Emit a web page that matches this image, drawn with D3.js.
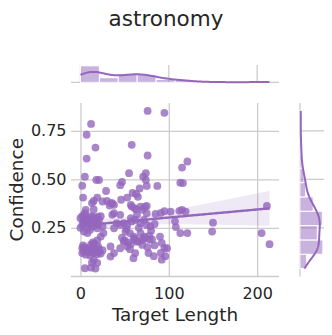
<!DOCTYPE html>
<html><head><meta charset="utf-8">
<script src="https://cdn.jsdelivr.net/npm/d3@7"></script>
<style>body{margin:0;background:#fff}</style>
</head><body><svg id="c" width="332" height="335"></svg>
<script>
const title = "astronomy";
const xLabel = "Target Length";
const yLabel = "Confidence";
const xTicks = [0, 100, 200];
const yTicks = [0.25, 0.50, 0.75];

const targetLength = [
76,95,12,7,17,58,76,7,121,115,55,74,5,71,18,21,74,2,47,45,75,87,113,116,67,29,3,19,15,53,65,30,36,33,57,61,75,5,115,211,150,149,113,121,205,214,107,108,95,91,85,92,95,91,96,92,83,13,25,34,38,6,
4,14,20,23,36,38,45,58,63,68,70,73,75,64,102,112,119,
2,8,11,13,19,25,4,8,26,23,38,41,45,49,53,57,58,62,68,72,75,79,51,56,60,68,72,70,90,98,77,62,60,34,38,34,49,53,45,64,70,73,
2,6,10,13,17,21,25,2,6,11,15,19,23,4,9,15,19,13,5,12,17,
0,3,6,9,12,16,18,21,0,5,10,14,17,20,2,7,11,15,19,4,9,13,17,21,3,8,12,16,20,
47,50,54,62,46,52,59,63,61,57,56,
66,78,66,80,84,76,81,78,84
];
const confidence = [
0.853,0.843,0.786,0.730,0.664,0.678,0.623,0.607,0.592,0.561,0.532,0.532,0.514,0.514,0.497,0.497,0.497,0.467,0.487,0.470,0.466,0.466,0.483,0.481,0.453,0.440,0.406,0.406,0.389,0.406,0.410,0.389,0.377,0.365,0.369,0.352,0.363,0.326,0.343,0.363,0.277,0.231,0.223,0.223,0.223,0.166,0.284,0.254,0.336,0.327,0.322,0.173,0.147,0.121,0.104,0.086,0.104,0.378,0.386,0.378,0.369,0.343,
0.317,0.308,0.308,0.310,0.317,0.326,0.317,0.360,0.345,0.360,0.343,0.358,0.326,0.317,0.334,0.338,0.334,
0.265,0.274,0.272,0.257,0.248,0.257,0.231,0.223,0.223,0.205,0.248,0.274,0.265,0.274,0.265,0.300,0.283,0.291,0.274,0.291,0.265,0.257,0.231,0.223,0.205,0.223,0.205,0.188,0.205,0.145,0.120,0.120,0.094,0.154,0.120,0.102,0.179,0.154,0.145,0.179,0.162,0.197,
0.145,0.140,0.148,0.137,0.143,0.140,0.135,0.120,0.112,0.108,0.120,0.114,0.118,0.130,0.125,0.085,0.070,0.072,0.042,0.045,0.040,
0.250,0.285,0.295,0.300,0.165,0.280,0.265,0.290,0.300,0.290,0.280,0.175,0.300,0.270,0.310,0.255,0.240,0.345,0.185,0.150,0.130,0.125,0.130,0.125,0.160,0.290,0.310,0.170,0.155,
0.200,0.185,0.175,0.195,0.395,0.245,0.430,0.425,0.190,0.165,0.140,
0.180,0.190,0.250,0.235,0.270,0.150,0.190,0.210,0.160
];

const nBinsX = 10, nBinsY = 11;
const color = "#9467bd";
const gridColor = "#cccccc";
const textColor = "#262626";
const font = "'DejaVu Sans', sans-serif";
const main = {l:71, r:279, t:103, b:276.5};
const margX = {t:65, b:82.3};
const margY = {l:300, r:324};

const data = targetLength.map((v,i)=>({x:v, y:confidence[i]}));
const n = data.length;
const svg = d3.select("#c");
const pad = e => { const r = e[1]-e[0]; return [e[0]-0.05*r, e[1]+0.05*r]; };
const xExt = d3.extent(targetLength), yExt = d3.extent(confidence);
const x = d3.scaleLinear().domain(pad(xExt)).range([main.l, main.r]);
const y = d3.scaleLinear().domain(pad(yExt)).range([main.b, main.t]);

const gx = svg.append("g").attr("transform",`translate(0,${main.b})`)
  .call(d3.axisBottom(x).tickValues(xTicks).tickSize(-(main.b-main.t)).tickPadding(11).tickFormat(d3.format("d")));
const gy = svg.append("g").attr("transform",`translate(${main.l},0)`)
  .call(d3.axisLeft(y).tickValues(yTicks).tickSize(-(main.r-main.l)).tickPadding(4.5).tickFormat(d3.format(".2f")));
[gx,gy].forEach(g=>{
  g.select(".domain").remove();
  g.selectAll(".tick line").attr("stroke",gridColor).attr("stroke-width",1.3);
  g.selectAll(".tick text").attr("font-family",font).attr("font-size",16).attr("fill",textColor);
});
svg.append("line").attr("x1",main.l).attr("x2",main.r).attr("y1",main.b).attr("y2",main.b)
  .attr("stroke",gridColor).attr("stroke-width",1.3);

const mx = d3.mean(targetLength), my = d3.mean(confidence);
const sxx = d3.sum(targetLength, v=>(v-mx)**2);
const sxy = d3.sum(data, d=>(d.x-mx)*(d.y-my));
const slope = sxy/sxx, icpt = my - slope*mx;
const s = Math.sqrt(d3.sum(data, d=>(d.y-(icpt+slope*d.x))**2)/(n-2));
const tval = 1.972;
const grid = d3.range(100).map(i=>xExt[0]+i*(xExt[1]-xExt[0])/99).map(g=>{
  const yh = icpt+slope*g;
  const se = s*Math.sqrt(1/n + (g-mx)**2/sxx);
  return {x:g, y:yh, lo:yh-tval*se, hi:yh+tval*se};
});

svg.append("g").selectAll("circle").data(data).join("circle")
  .attr("cx",d=>x(d.x)).attr("cy",d=>y(d.y)).attr("r",3.9)
  .attr("fill",color).attr("fill-opacity",0.8);

svg.append("path").datum(grid)
  .attr("d", d3.area().x(d=>x(d.x)).y0(d=>y(d.lo)).y1(d=>y(d.hi)))
  .attr("fill",color).attr("fill-opacity",0.15);
svg.append("path").datum(grid)
  .attr("d", d3.line().x(d=>x(d.x)).y(d=>y(d.y)))
  .attr("fill","none").attr("stroke",color).attr("stroke-width",2.4);

function kde(vals, ext, bw, scale){
  return d3.range(200).map(i=>{
    const v = ext[0]+i*(ext[1]-ext[0])/199;
    const dens = d3.mean(vals, u=>Math.exp(-0.5*((v-u)/bw)**2))/(bw*Math.sqrt(2*Math.PI));
    return {v, d:dens*scale};
  });
}

const xThr = d3.range(1,nBinsX).map(i=>xExt[0]+i*(xExt[1]-xExt[0])/nBinsX);
const xBins = d3.bin().domain(xExt).thresholds(xThr)(targetLength);
const xbw = d3.deviation(targetLength)*Math.pow(n,-0.2);
const xK = kde(targetLength, xExt, xbw, n*(xExt[1]-xExt[0])/nBinsX);
const xMax = Math.max(d3.max(xBins,b=>b.length), d3.max(xK,k=>k.d));
const cx = d3.scaleLinear().domain([0,xMax*1.05]).range([margX.b, margX.t]);
svg.append("g").selectAll("line").data(xTicks).join("line")
  .attr("x1",d=>x(d)).attr("x2",d=>x(d)).attr("y1",margX.t).attr("y2",margX.b)
  .attr("stroke",gridColor).attr("stroke-width",1.3);
svg.append("line").attr("x1",main.l).attr("x2",main.r).attr("y1",margX.b).attr("y2",margX.b)
  .attr("stroke",gridColor).attr("stroke-width",1.3);
svg.append("g").selectAll("rect").data(xBins).join("rect")
  .attr("x",b=>x(b.x0)).attr("width",b=>x(b.x1)-x(b.x0))
  .attr("y",b=>cx(b.length)).attr("height",b=>cx(0)-cx(b.length))
  .attr("fill",color).attr("fill-opacity",0.5).attr("stroke","#fff").attr("stroke-width",1);
svg.append("path").datum(xK)
  .attr("d", d3.line().x(k=>x(k.v)).y(k=>cx(k.d)))
  .attr("fill","none").attr("stroke",color).attr("stroke-width",2);

const yThr = d3.range(1,nBinsY).map(i=>yExt[0]+i*(yExt[1]-yExt[0])/nBinsY);
const yBins = d3.bin().domain(yExt).thresholds(yThr)(confidence);
const ybw = d3.deviation(confidence)*Math.pow(n,-0.2);
const yK = kde(confidence, yExt, ybw, n*(yExt[1]-yExt[0])/nBinsY);
const yMax = Math.max(d3.max(yBins,b=>b.length), d3.max(yK,k=>k.d));
const cy = d3.scaleLinear().domain([0,yMax*1.05]).range([margY.l, margY.r]);
svg.append("g").selectAll("line").data(yTicks).join("line")
  .attr("y1",d=>y(d)).attr("y2",d=>y(d)).attr("x1",margY.l).attr("x2",margY.r)
  .attr("stroke",gridColor).attr("stroke-width",1.3);
svg.append("line").attr("x1",margY.l).attr("x2",margY.l).attr("y1",main.t).attr("y2",main.b)
  .attr("stroke",gridColor).attr("stroke-width",1.3);
svg.append("g").selectAll("rect").data(yBins).join("rect")
  .attr("y",b=>y(b.x1)).attr("height",b=>y(b.x0)-y(b.x1))
  .attr("x",margY.l).attr("width",b=>cy(b.length)-cy(0))
  .attr("fill",color).attr("fill-opacity",0.5).attr("stroke","#fff").attr("stroke-width",1);
svg.append("path").datum(yK)
  .attr("d", d3.line().y(k=>y(k.v)).x(k=>cy(k.d)))
  .attr("fill","none").attr("stroke",color).attr("stroke-width",2);

svg.append("text").attr("x",166).attr("y",26).attr("text-anchor","middle")
  .attr("font-family",font).attr("font-size",21.5).attr("fill",textColor).text(title);
svg.append("text").attr("x",(main.l+main.r)/2).attr("y",321).attr("text-anchor","middle")
  .attr("font-family",font).attr("font-size",18.4).attr("fill",textColor).text(xLabel);
svg.append("text").attr("transform",`translate(23,${(main.t+main.b)/2}) rotate(-90)`)
  .attr("text-anchor","middle")
  .attr("font-family",font).attr("font-size",18.4).attr("fill",textColor).text(yLabel);
</script>
</body></html>
